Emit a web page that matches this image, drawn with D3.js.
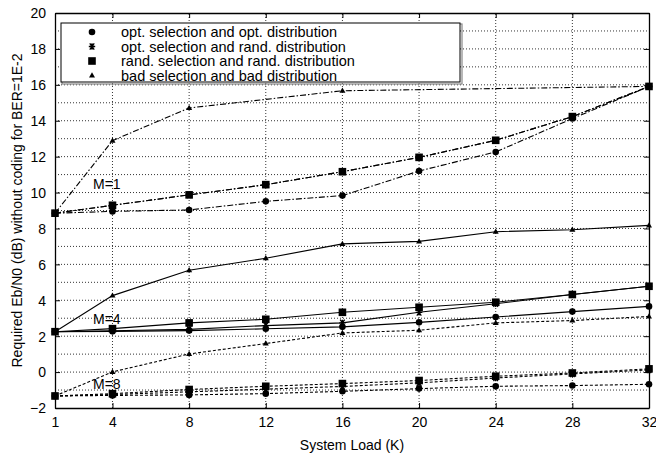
<!DOCTYPE html>
<html>
<head>
<meta charset="utf-8">
<script src="https://cdn.jsdelivr.net/npm/d3@7"></script>
<style>
body { margin: 0; background: #fff; }
text { font-family: "Liberation Sans", Arial, sans-serif; fill: #000; }
</style>
</head>
<body>
<div id="chart"></div>
<script>
// x values (system load K)
const loads = [1, 4, 8, 12, 16, 20, 24, 28, 32];
const loadsBad1 = [1, 4, 8, 16, 32];
const xTicks = [1, 4, 8, 12, 16, 20, 24, 28, 32];
const yTicks = [-2, 0, 2, 4, 6, 8, 10, 12, 14, 16, 18, 20];

// M=1 (dash-dot)
const m1Opt = [8.85, 8.95, 9.03, 9.51, 9.83, 11.2, 12.26, 14.12, 15.91];
const m1OptRand = [8.85, 9.29, 9.87, 10.44, 11.16, 11.96, 12.91, 14.23, 15.91];
const m1Rand = [8.85, 9.29, 9.87, 10.44, 11.16, 11.96, 12.91, 14.23, 15.91];
const m1Bad = [8.85, 12.89, 14.71, 15.67, 15.91];

// M=4 (solid)
const m4Opt = [2.25, 2.27, 2.31, 2.41, 2.52, 2.77, 3.07, 3.37, 3.66];
const m4OptRand = [2.25, 2.3, 2.38, 2.59, 2.74, 3.33, 3.81, 4.32, 4.78];
const m4Rand = [2.25, 2.42, 2.74, 2.94, 3.33, 3.61, 3.89, 4.32, 4.78];
const m4Bad = [2.25, 4.26, 5.67, 6.34, 7.14, 7.28, 7.82, 7.93, 8.17];

// M=8 (dotted)
const m8Opt = [-1.33, -1.3, -1.27, -1.2, -1.07, -0.92, -0.79, -0.75, -0.68];
const m8OptRand = [-1.33, -1.25, -1.1, -0.95, -0.8, -0.6, -0.33, -0.1, 0.12];
const m8Rand = [-1.33, -1.2, -0.97, -0.79, -0.64, -0.47, -0.23, -0.05, 0.18];
const m8Bad = [-1.33, 0.01, 1.01, 1.59, 2.18, 2.33, 2.74, 2.87, 3.1];

const groupLabels = ["M=1", "M=4", "M=8"];
const groupLabelY = [10.2, 2.68, -0.94];

const legendLabels = [
  "opt. selection and opt. distribution",
  "opt. selection and rand. distribution",
  "rand. selection and rand. distribution",
  "bad selection and bad distribution"
];
const markerKinds = ["circle", "star", "square", "triangle"];

const width = 656, height = 456;
const margin = { top: 13, right: 7, bottom: 48, left: 55 };

const svg = d3.select("#chart").append("svg")
  .attr("width", width)
  .attr("height", height);

const x = d3.scaleLinear().domain([1, 32]).range([margin.left, width - margin.right]);
const y = d3.scaleLinear().domain([-2, 20]).range([height - margin.bottom, margin.top]);

// grid
const grid = svg.append("g").attr("stroke", "#000").attr("stroke-width", 0.8)
  .attr("stroke-dasharray", "1,2");
grid.selectAll(".gx").data(xTicks.slice(1, -1)).enter().append("line")
  .attr("x1", d => x(d)).attr("x2", d => x(d))
  .attr("y1", y(-2)).attr("y2", y(20));
grid.selectAll(".gy").data(d3.range(-1, 20)).enter().append("line")
  .attr("x1", x(1)).attr("x2", x(32))
  .attr("y1", d => y(d)).attr("y2", d => y(d));

// axes
const xAxis = svg.append("g")
  .attr("transform", `translate(0,${y(-2)})`)
  .call(d3.axisBottom(x).tickValues(xTicks).tickSizeInner(-5).tickSizeOuter(0).tickPadding(9));
const xAxisTop = svg.append("g")
  .attr("transform", `translate(0,${y(20)})`)
  .call(d3.axisTop(x).tickValues(xTicks).tickSizeInner(-5).tickSizeOuter(0).tickFormat(""));
const yAxis = svg.append("g")
  .attr("transform", `translate(${x(1)},0)`)
  .call(d3.axisLeft(y).tickValues(yTicks).tickSizeInner(-5).tickSizeOuter(0).tickPadding(9));
const yAxisR = svg.append("g")
  .attr("transform", `translate(${x(32)},0)`)
  .call(d3.axisRight(y).tickValues(yTicks).tickSizeInner(-5).tickSizeOuter(0).tickFormat(""));
[xAxis, xAxisTop, yAxis, yAxisR].forEach(a => {
  a.select(".domain").attr("stroke", "#000").attr("stroke-width", 1.3);
  a.selectAll("text").style("font-size", "14px").attr("font-family", null);
});
yAxis.selectAll("text").attr("dy", "0.35em");

// axis titles
svg.append("text")
  .attr("x", (x(1) + x(32)) / 2).attr("y", 450)
  .attr("text-anchor", "middle").style("font-size", "14px")
  .text("System Load (K)");
svg.append("text")
  .attr("transform", `translate(22,${(y(-2) + y(20)) / 2}) rotate(-90)`)
  .attr("text-anchor", "middle").style("font-size", "14px")
  .text("Required Eb/N0 (dB) without coding for BER=1E-2");

// markers
function marker(g, kind, cx, cy) {
  if (kind === "circle") {
    g.append("circle").attr("cx", cx).attr("cy", cy).attr("r", 3.3).attr("fill", "#000");
  } else if (kind === "square") {
    g.append("rect").attr("x", cx - 3.8).attr("y", cy - 3.8).attr("width", 7.6).attr("height", 7.6).attr("fill", "#000");
  } else if (kind === "triangle") {
    g.append("path").attr("d", `M${cx},${cy - 3.2}L${cx + 3},${cy + 2}L${cx - 3},${cy + 2}Z`).attr("fill", "#000");
  } else {
    const s = 3.2;
    g.append("path")
      .attr("d", `M${cx - s},${cy}H${cx + s}M${cx - s * 0.7},${cy - s}L${cx + s * 0.7},${cy + s}M${cx + s * 0.7},${cy - s}L${cx - s * 0.7},${cy + s}M${cx},${cy - s}V${cy + s}`)
      .attr("stroke", "#000").attr("stroke-width", 1.3).attr("fill", "none");
  }
}

const series = [
  { xs: loads, ys: m1Opt, kind: "circle", dash: "6,2,1.5,2" },
  { xs: loads, ys: m1OptRand, kind: "star", dash: "6,2,1.5,2" },
  { xs: loads, ys: m1Rand, kind: "square", dash: "6,2,1.5,2" },
  { xs: loadsBad1, ys: m1Bad, kind: "triangle", dash: "6,2,1.5,2" },
  { xs: loads, ys: m4Opt, kind: "circle", dash: null },
  { xs: loads, ys: m4OptRand, kind: "star", dash: null },
  { xs: loads, ys: m4Rand, kind: "square", dash: null },
  { xs: loads, ys: m4Bad, kind: "triangle", dash: null },
  { xs: loads, ys: m8Opt, kind: "circle", dash: "3,2" },
  { xs: loads, ys: m8OptRand, kind: "star", dash: "3,2" },
  { xs: loads, ys: m8Rand, kind: "square", dash: "3,2" },
  { xs: loads, ys: m8Bad, kind: "triangle", dash: "3,2" }
];

const line = d3.line().x(d => x(d[0])).y(d => y(d[1]));
const plot = svg.append("g");
series.forEach(s => {
  const pts = s.xs.map((v, i) => [v, s.ys[i]]);
  plot.append("path").datum(pts)
    .attr("d", line)
    .attr("fill", "none").attr("stroke", "#000").attr("stroke-width", 1.1)
    .attr("stroke-dasharray", s.dash);
  const mg = plot.append("g");
  pts.forEach(p => marker(mg, s.kind, x(p[0]), y(p[1])));
});

// group labels
groupLabels.forEach((t, i) => {
  svg.append("text").attr("x", 93).attr("y", y(groupLabelY[i])).style("font-size", "14px").text(t);
});

// legend
const lg = svg.append("g");
lg.append("rect").attr("x", 62).attr("y", 24).attr("width", 400).attr("height", 60)
  .attr("fill", "none").attr("stroke", "#888").attr("stroke-width", 1.2);
lg.append("rect").attr("x", 61).attr("y", 23).attr("width", 399).attr("height", 59)
  .attr("fill", "#fff").attr("stroke", "#000").attr("stroke-width", 1);
legendLabels.forEach((t, i) => {
  const ly = 32 + i * 14.5;
  marker(lg, markerKinds[i], 92, ly);
  lg.append("text").attr("x", 121).attr("y", ly).attr("dy", "0.35em")
    .style("font-size", "14.5px").text(t);
});
</script>
</body>
</html>
